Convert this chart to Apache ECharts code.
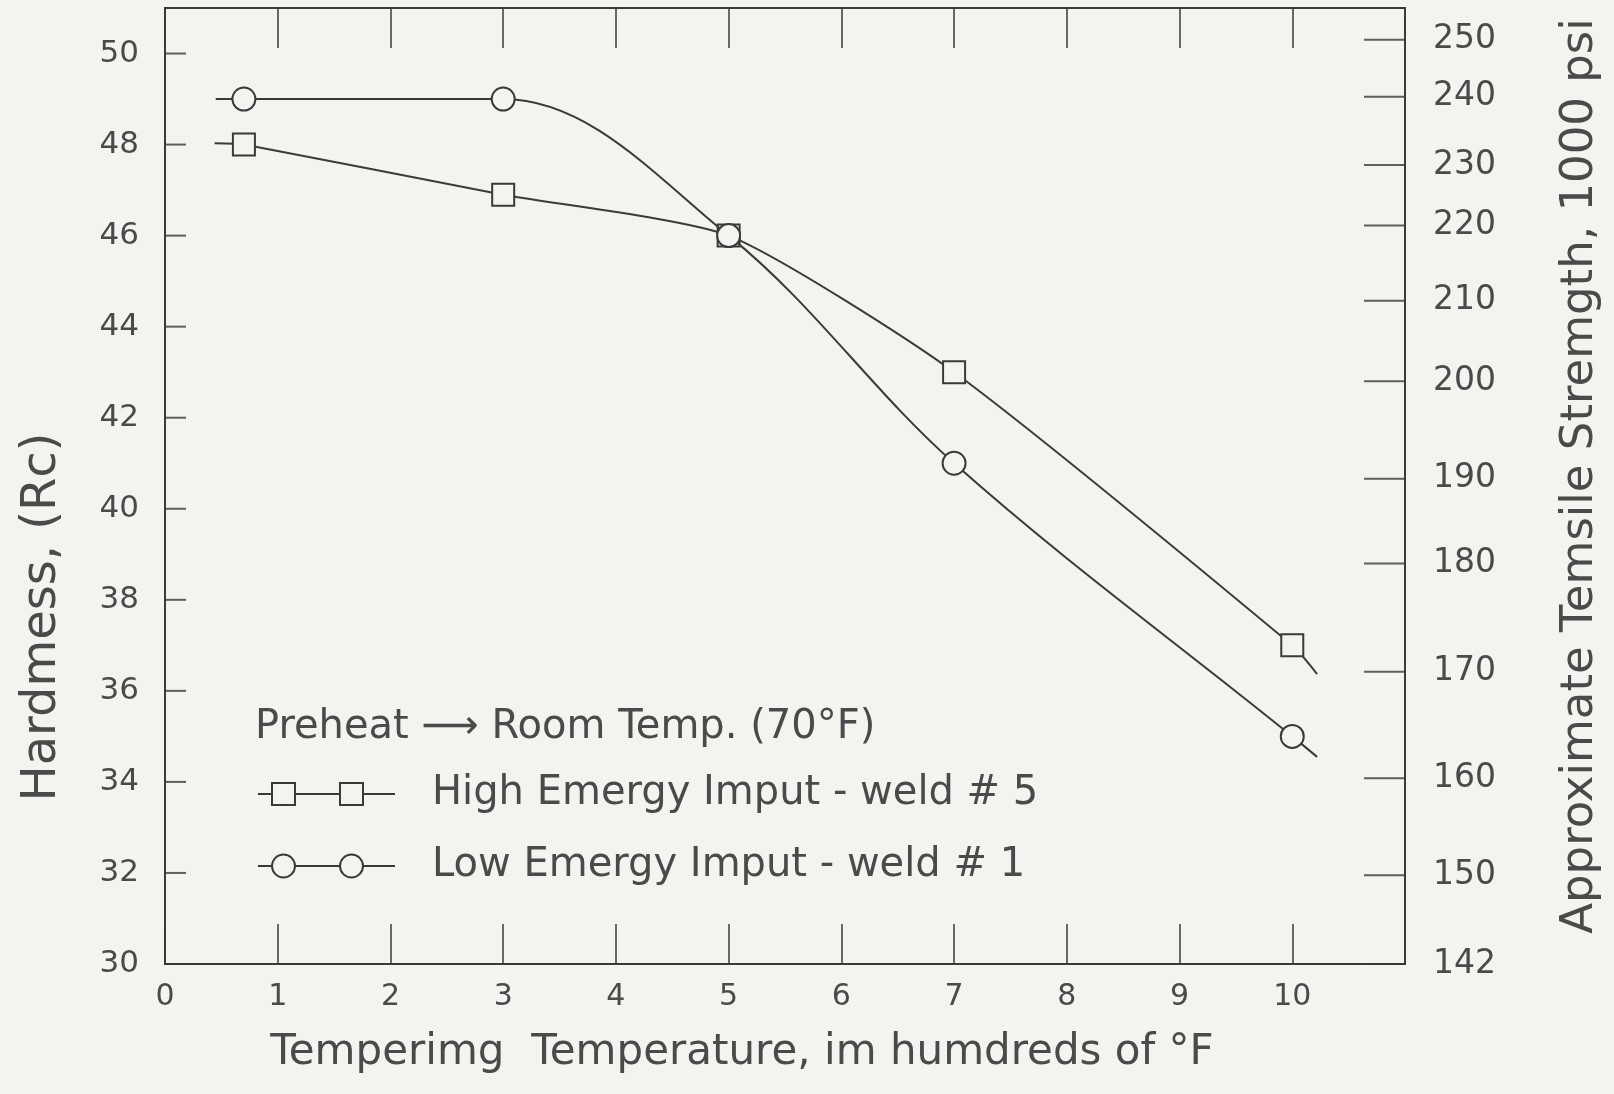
<!DOCTYPE html>
<html><head><meta charset="utf-8">
<script src="https://cdn.jsdelivr.net/npm/echarts@6/dist/echarts.min.js"></script>
<style>html,body{margin:0;padding:0;background:#f3f4f0;} #c{width:1614px;height:1094px;}</style>
</head><body><div id="c"></div>
<script>
// ---- data ----
const xTickLabels = [0, 1, 2, 3, 4, 5, 6, 7, 8, 9, 10];
const hardnessTicks = [30, 32, 34, 36, 38, 40, 42, 44, 46, 48, 50];
// right axis: tensile strength labels and the hardness level where each sits
const tensileLabels = [250, 240, 230, 220, 210, 200, 190, 180, 170, 160, 150, 142];
const tensileAtHardness = [50.3, 49.05, 47.55, 46.22, 44.57, 42.8, 40.66, 38.8, 36.42, 34.08, 31.95, 30];

const highName = 'High Emergy Imput - weld # 5';
const highX = [0.7, 3, 5, 7, 10];
const highY = [48, 46.9, 46, 43, 37];
const highLeadIn = [0.44, 48.03];
const highLeadOut = [10.22, 36.37];

const lowName = 'Low Emergy Imput - weld # 1';
const lowX = [0.7, 3, 5, 7, 10];
const lowY = [49, 49, 46, 41, 35];
const lowLeadIn = [0.45, 49];
const lowLeadOut = [10.22, 34.55];

const noteText = 'Preheat \u27F6 Room Temp. (70\u00B0F)';
const xMin = 0;
const xMax = 11;

// ---- styles ----
const BG = '#f3f4f0';
const INK = '#3a3a3a';
const TXT = '#4a4a4a';
const FONT = '"DejaVu Sans", "Noto Sans", sans-serif';

function build(xs, ys, leadIn, leadOut) {
  const d = [{ value: leadIn, symbol: 'none' }];
  xs.forEach((x, i) => d.push([x, ys[i]]));
  d.push({ value: leadOut, symbol: 'none' });
  return d;
}

const squareIcon = 'path://M0,12 L14,12 M14,1 L37,1 L37,23 L14,23 Z M37,12 L82,12 M82,1 L105,1 L105,23 L82,23 Z M105,12 L137,12';
const circleIcon = 'path://M0,12 L14,12 M37,12 A11.5,11.5 0 1,1 14,12 A11.5,11.5 0 1,1 37,12 Z M37,12 L82,12 M105,12 A11.5,11.5 0 1,1 82,12 A11.5,11.5 0 1,1 105,12 Z M105,12 L137,12';

const chart = echarts.init(document.getElementById('c'), null, { renderer: 'canvas' });
chart.setOption({
  backgroundColor: BG,
  animation: false,
  textStyle: { fontFamily: FONT },
  title: {
    text: noteText, left: 250, top: 703,
    textStyle: { fontSize: 40, fontWeight: 'normal', color: TXT, fontFamily: FONT }
  },
  legend: {
    orient: 'vertical', left: 252, top: 769,
    itemWidth: 137, itemHeight: 24, itemGap: 32,
    selectedMode: false,
    textStyle: { fontSize: 40, color: TXT, lineHeight: 36, padding: [0, 0, 0, 32], fontFamily: FONT },
    data: [
      { name: highName, icon: squareIcon },
      { name: lowName, icon: circleIcon }
    ]
  },
  grid: { left: 165, right: 209, top: 8, bottom: 130, show: true, borderColor: INK, borderWidth: 2, backgroundColor: 'transparent' },
  xAxis: [{
    type: 'value', min: xMin, max: xMax, interval: 1, position: 'bottom',
    name: 'Temperimg  Temperature, im humdreds of \u00B0F',
    nameLocation: 'middle', nameGap: 68,
    nameTextStyle: { fontSize: 42, color: TXT, padding: [0, 86, 0, 0], fontFamily: FONT },
    axisLine: { show: true, lineStyle: { color: INK, width: 2 } },
    axisTick: { show: true, inside: true, length: 40, lineStyle: { color: INK, width: 1.5 } },
    axisLabel: { show: true, fontSize: 30, color: TXT, margin: 18, showMaxLabel: false,
      formatter: v => (xTickLabels.indexOf(v) >= 0 ? String(v) : '') },
    splitLine: { show: false }
  }, {
    type: 'value', min: xMin, max: xMax, interval: 1, position: 'top',
    axisLine: { show: true, lineStyle: { color: INK, width: 2 } },
    axisTick: { show: true, inside: true, length: 40, lineStyle: { color: INK, width: 1.5 } },
    axisLabel: { show: false },
    splitLine: { show: false }
  }],
  yAxis: [{
    type: 'value', min: 30, max: 51, interval: 2, position: 'left',
    name: 'Hardmess, (Rc)', nameLocation: 'middle', nameRotate: 90, nameGap: 98,
    nameTextStyle: { fontSize: 48, color: TXT, padding: [0, 262, 0, 0], fontFamily: FONT },
    axisLine: { show: true, lineStyle: { color: INK, width: 2 } },
    axisTick: { show: false },
    axisLabel: { fontSize: 31, color: TXT, margin: 26, showMaxLabel: false,
      formatter: v => (hardnessTicks.indexOf(v) >= 0 ? String(v) : '') },
    splitLine: { show: false }
  }, {
    type: 'value', min: 30, max: 51, position: 'right',
    name: 'Approximate Temsile Stremgth, 1000 psi', nameLocation: 'middle', nameRotate: 90, nameGap: 153,
    nameTextStyle: { fontSize: 45, color: TXT, padding: [0, 0, 0, 20], fontFamily: FONT },
    axisLine: { show: true, lineStyle: { color: INK, width: 2 } },
    axisTick: { show: false },
    axisLabel: { fontSize: 33, color: TXT, margin: 28, customValues: tensileAtHardness,
      formatter: v => { const i = tensileAtHardness.indexOf(v); return i >= 0 ? String(tensileLabels[i]) : ''; } },
    splitLine: { show: false }
  }],
  series: [{
    name: highName, type: 'line', xAxisIndex: 0, yAxisIndex: 0,
    data: build(highX, highY, highLeadIn, highLeadOut),
    smooth: 0.2, symbol: 'rect', symbolSize: 22,
    lineStyle: { color: INK, width: 2 },
    itemStyle: { color: BG, borderColor: INK, borderWidth: 2 },
    z: 3
  }, {
    name: lowName, type: 'line', xAxisIndex: 0, yAxisIndex: 0,
    data: build(lowX, lowY, lowLeadIn, lowLeadOut),
    smooth: 0.35, symbol: 'circle', symbolSize: 23,
    lineStyle: { color: INK, width: 2 },
    itemStyle: { color: BG, borderColor: INK, borderWidth: 2 },
    z: 4
  }, {
    // inward tick marks of the left hardness scale
    name: 'hardnessTicks', type: 'scatter', xAxisIndex: 0, yAxisIndex: 0,
    data: hardnessTicks.map(h => [xMin, h]),
    symbol: 'rect', symbolSize: [21, 2], symbolOffset: [10.5, 0],
    itemStyle: { color: INK }, silent: true, clip: false, z: 2
  }, {
    // inward tick marks of the right-hand tensile scale
    name: 'tensileTicks', type: 'scatter', xAxisIndex: 0, yAxisIndex: 1,
    data: tensileAtHardness.map(h => [xMax, h]),
    symbol: 'rect', symbolSize: [41, 2], symbolOffset: [-20.5, 0],
    itemStyle: { color: INK }, silent: true, clip: false, z: 2
  }]
});
</script></body></html>
